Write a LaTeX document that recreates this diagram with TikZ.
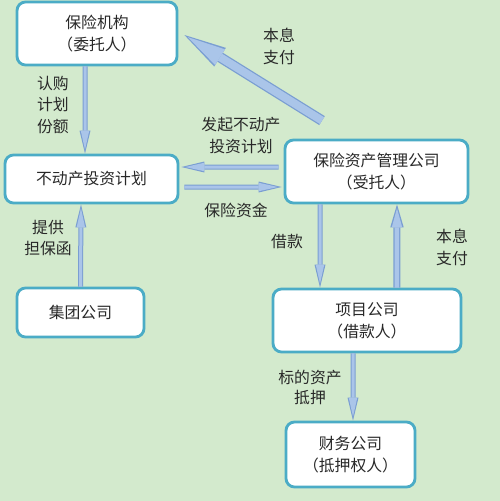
\documentclass[tikz,border=0pt]{standalone}
\usepackage{fontspec}
\setmainfont{Noto Sans CJK SC}
\usetikzlibrary{arrows.meta}

\definecolor{bggreen}{RGB}{211,234,205}
\definecolor{boxline}{RGB}{75,172,198}
\definecolor{arrowfill}{RGB}{170,197,233}
\definecolor{arrowedge}{RGB}{122,158,210}
\definecolor{txt}{RGB}{40,40,40}

\begin{document}
\begin{tikzpicture}[
    x=0.02cm, y=-0.02cm,
    font=\fontsize{9pt}{12.5pt}\selectfont,
    party/.style={draw=boxline, line width=1.6pt, fill=white, rounded corners=0.17cm,
                  align=center, text=txt, inner sep=0pt},
    tag/.style={align=center, text=txt, inner sep=0pt},
    flow/.style n args={6}{draw=arrowedge, line width=#1,
                  -{Triangle[width=#2, length=#3, line width=0pt]},
                  postaction={draw=arrowfill, line width=#4, shorten >=0.08cm,
                  -{Triangle[width=#5, length=#6, line width=0pt]}}},
    thinflow/.style={flow={0.10cm}{0.22cm}{0.46cm}{0.06cm}{0.17cm}{0.38cm}},
    midflow/.style={flow={0.14cm}{0.27cm}{0.46cm}{0.09cm}{0.21cm}{0.38cm}},
    bigflow/.style={flow={0.21cm}{0.44cm}{0.84cm}{0.16cm}{0.37cm}{0.76cm}},
]

% --- Background ---
\fill[bggreen] (0,0) rectangle (500,501);
\useasboundingbox (0,0) rectangle (500,501);

% --- Parties ---
\node[party, minimum width=3.2cm, minimum height=1.26cm] (insurer) at (97,33.5)
    {保险机构\\（委托人）};
\node[party, minimum width=3.46cm, minimum height=0.96cm] (plan) at (91.5,179)
    {不动产投资计划};
\node[party, minimum width=3.66cm, minimum height=1.26cm] (amc) at (376.5,171.5)
    {保险资产管理公司\\（受托人）};
\node[party, minimum width=2.54cm, minimum height=0.98cm] (group) at (80.5,312.5)
    {集团公司};
\node[party, minimum width=3.76cm, minimum height=1.26cm] (project) at (367,320.5)
    {项目公司\\（借款人）};
\node[party, minimum width=2.58cm, minimum height=1.3cm] (finance) at (350.5,454.5)
    {财务公司\\（抵押权人）};

% --- Flows ---
\draw[thinflow] ([xshift=-0.24cm]insurer.south) -- ([xshift=-0.13cm]plan.north);
\draw[thinflow] (group.north) -- ([xshift=-0.21cm]plan.south);
\draw[bigflow] ([shift={(-1.09cm,0.36cm)}]amc.north) -- ([shift={(0.12cm,-0.03cm)}]insurer.east);
\draw[thinflow] ([shift={(-0.1cm,0.09cm)}]amc.west) -- ([shift={(0.04cm,0.24cm)}]plan.east);
\draw[thinflow] ([shift={(0.1cm,-0.16cm)}]plan.east) -- ([shift={(-0.04cm,-0.31cm)}]amc.west);
\draw[thinflow] ([xshift=-1.13cm]amc.south) -- ([xshift=-0.94cm]project.north);
\draw[midflow] ([xshift=0.6cm]project.north) -- ([xshift=0.41cm]amc.south);
\draw[thinflow] ([xshift=-0.28cm]project.south) -- ([xshift=0.05cm]finance.north);

% --- Labels ---
\node[tag] (subscribe) at (53,105) {认购\\计划\\份额};
\node[tag] (repaytop) at (279,46) {本息\\支付};
\node[tag] (launch) at (241,135.5) {发起不动产\\投资计划};
\node[tag] (funds) at (236,210) {保险资金};
\node[tag] (guarantee) at (48,238) {提供\\担保函};
\node[tag] (loan) at (287,242) {借款};
\node[tag] (repayright) at (452,247.5) {本息\\支付};
\node[tag, font=\fontsize{9pt}{11pt}\selectfont] (pledge) at (310,387.5) {标的资产\\抵押};

\end{tikzpicture}
\end{document}
